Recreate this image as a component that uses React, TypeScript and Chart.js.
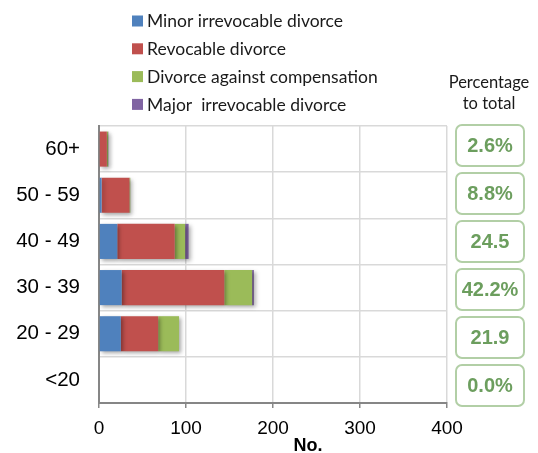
import React, { useEffect, useRef } from "react";
import { Chart, registerables } from "chart.js";

Chart.register(...registerables);

const categories = ["60+", "50 - 59", "40 - 49", "30 - 39", "20 - 29", "<20"];
const minorIrrevocable = [0, 3, 21, 26, 25, 0];
const revocable = [9, 32, 66, 118, 43, 0];
const againstCompensation = [1.5, 1, 12, 32, 24, 0];
const majorIrrevocable = [0.3, 0, 4, 2, 0, 0];
const percentages = ["2.6%", "8.8%", "24.5", "42.2%", "21.9", "0.0%"];
const seriesNames = [
  "Minor irrevocable divorce",
  "Revocable divorce",
  "Divorce against compensation",
  "Major  irrevocable divorce",
];
const seriesColors = ["#4f81bd", "#c0504d", "#9bbb59", "#8064a2"];
const xMax = 400;
const xStep = 100;

const LABEL_FONT = "'Liberation Sans', Arial, sans-serif";
const LEGEND_FONT = "Lato, 'Open Sans', sans-serif";

const shadowPlugin = {
  id: "barShadow",
  beforeDatasetsDraw(chart: any) {
    const ctx = chart.ctx;
    ctx.save();
    ctx.shadowColor = "rgba(0,0,0,0.35)";
    ctx.shadowBlur = 4;
    ctx.shadowOffsetX = 2;
    ctx.shadowOffsetY = 2;
  },
  afterDatasetsDraw(chart: any) {
    chart.ctx.restore();
  },
};

const decorPlugin = {
  id: "decor",
  afterDraw(chart: any) {
    const ctx = chart.ctx;
    ctx.save();
    // legend
    ctx.font = `17.5px ${LEGEND_FONT}`;
    ctx.textBaseline = "middle";
    ctx.textAlign = "left";
    chart.data.datasets.forEach((ds: any, i: number) => {
      const y = 21 + i * 27.8;
      ctx.fillStyle = ds.backgroundColor;
      ctx.fillRect(132, y - 5.5, 11, 11);
      ctx.fillStyle = "#1a1a1a";
      ctx.fillText(ds.label, 147, y + 0.5);
    });
    // header
    ctx.textAlign = "center";
    ctx.font = `16.5px ${LEGEND_FONT}`;
    ctx.fillStyle = "#1a1a1a";
    ctx.fillText("Percentage", 489, 83);
    ctx.fillText("to total", 489, 104);
    // boxes
    percentages.forEach((p, i) => {
      const top = 125 + i * 48;
      ctx.beginPath();
      ctx.roundRect(456, top, 68, 41, 6);
      ctx.lineWidth = 2;
      ctx.strokeStyle = "#b2cfa6";
      ctx.stroke();
      ctx.fillStyle = "#6c9e5e";
      ctx.font = `bold 20px ${LABEL_FONT}`;
      ctx.fillText(p, 490, top + 21.5);
    });
    // axis title
    ctx.fillStyle = "#000";
    ctx.font = `bold 18px ${LABEL_FONT}`;
    ctx.fillText("No.", 308, 446);
    ctx.restore();
  },
};

export default function App() {
  const ref = useRef<HTMLCanvasElement | null>(null);
  useEffect(() => {
    if (!ref.current) return;
    const data = [minorIrrevocable, revocable, againstCompensation, majorIrrevocable];
    const chart = new Chart(ref.current, {
      type: "bar",
      data: {
        labels: categories,
        datasets: data.map((d, i) => ({
          label: seriesNames[i],
          data: d,
          backgroundColor: seriesColors[i],
          borderWidth: 0,
          barPercentage: 0.76,
          categoryPercentage: 1,
        })),
      },
      options: {
        indexAxis: "y",
        responsive: false,
        animation: false,
        layout: { padding: { left: 0, top: 126, right: 91, bottom: 0 } },
        plugins: {
          legend: { display: false },
          tooltip: { enabled: false },
          title: { display: false },
        },
        scales: {
          x: {
            stacked: true,
            min: 0,
            max: xMax,
            ticks: {
              stepSize: xStep,
              color: "#000",
              font: { family: LABEL_FONT, size: 19 },
              padding: 9,
            },
            grid: {
              color: "#d9d9d9",
              lineWidth: 1.5,
              tickLength: 5,
              tickColor: "#888",
              drawTicks: true,
            },
            border: { color: "#868686", width: 2 },
            afterFit(scale: any) {
              scale.height = 50;
            },
          },
          y: {
            stacked: true,
            ticks: {
              color: "#000",
              font: { family: LABEL_FONT, size: 20.5 },
              padding: 19,
            },
            grid: {
              color: "#d9d9d9",
              lineWidth: 1.5,
              drawTicks: false,
              offset: true,
            },
            border: { color: "#868686", width: 2 },
            afterFit(scale: any) {
              scale.width = 99;
            },
          },
        },
      },
      plugins: [shadowPlugin, decorPlugin],
    });
    return () => chart.destroy();
  }, []);
  return (
    <div style={{ position: "fixed", left: 0, top: 0, width: 538, height: 453, background: "#fff" }}>
      <canvas ref={ref} width={538} height={453} />
    </div>
  );
}
